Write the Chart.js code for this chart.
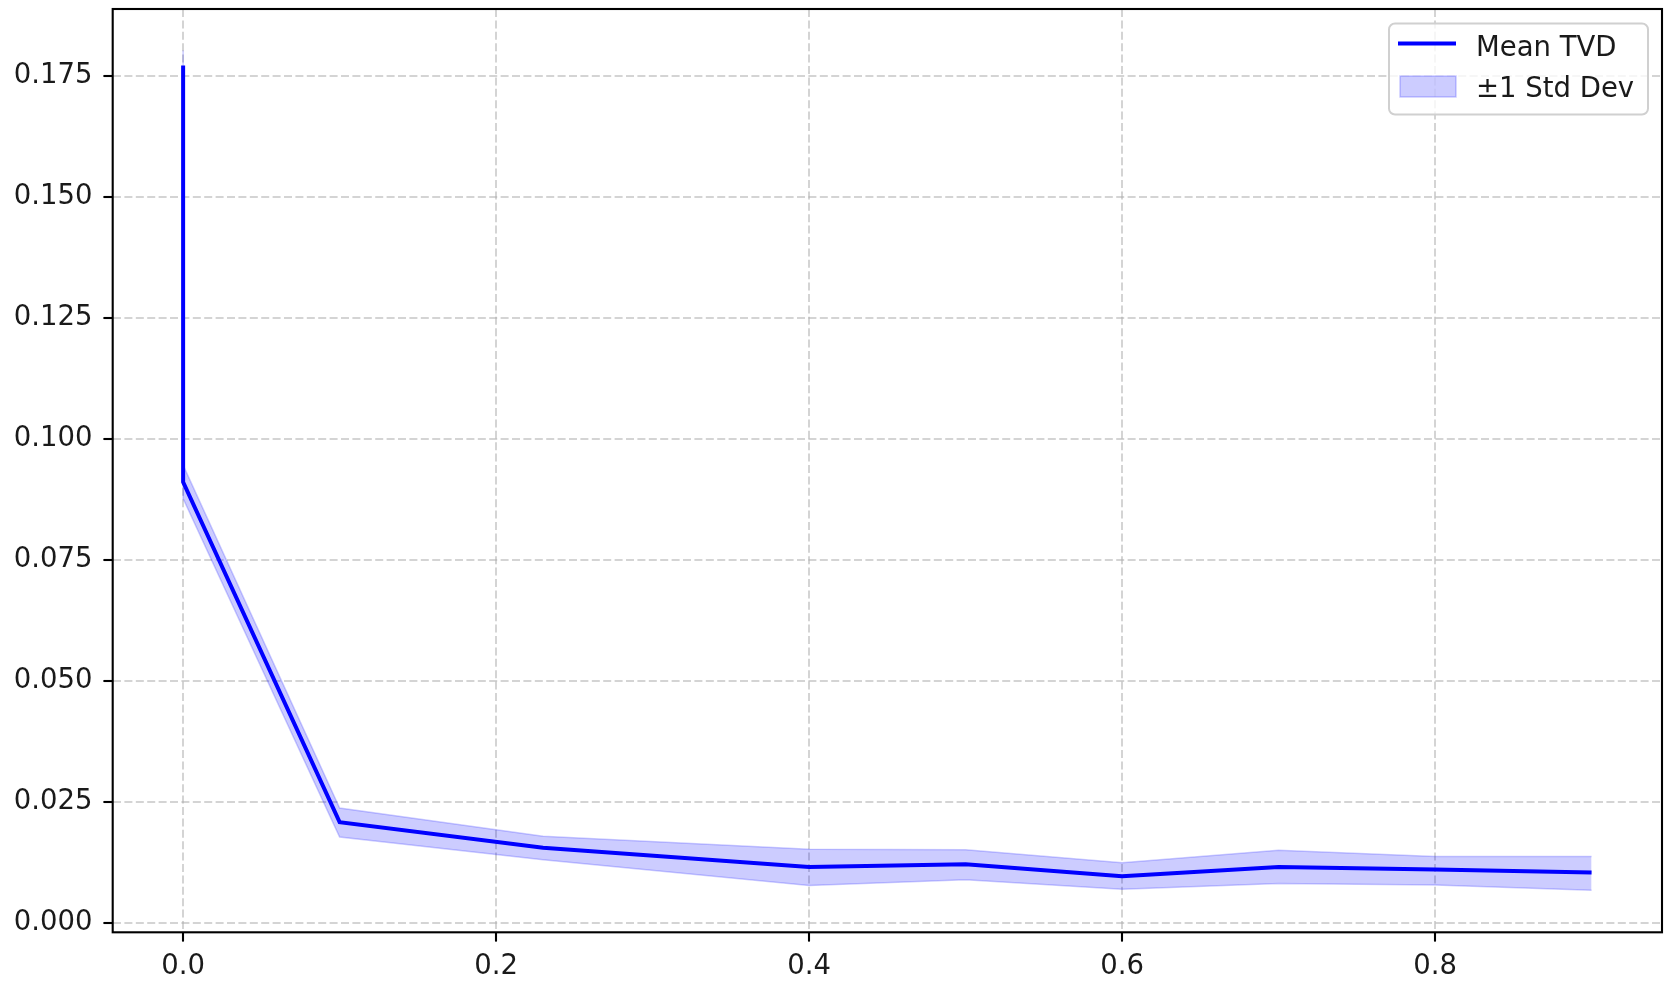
<!DOCTYPE html>
<html>
<head>
<meta charset="utf-8">
<script src="https://cdn.jsdelivr.net/npm/chart.js@4/dist/chart.umd.min.js"></script>
<style>
  html, body { margin: 0; padding: 0; background: #fff; }
  #wrap { width: 1678px; height: 986px; }
</style>
</head>
<body>
<div id="wrap"><canvas id="tvdChart" width="1678" height="986"></canvas></div>
<script>
// values
const xValues = [0, 0, 0.1, 0.23, 0.4, 0.5, 0.6, 0.7, 0.8, 0.9];
const meanTvd = [0.1772, 0.0911, 0.0208, 0.0155, 0.0115, 0.0121, 0.0096, 0.0115, 0.0110, 0.0104];
const upperBand = [0.1803, 0.0946, 0.0237, 0.0179, 0.0152, 0.0151, 0.0124, 0.0150, 0.0137, 0.0137];
const lowerBand = [0.1741, 0.0877, 0.0177, 0.0130, 0.0077, 0.0089, 0.0069, 0.0081, 0.0078, 0.0067];
const xTicks = [0, 0.2, 0.4, 0.6, 0.8];
const yTicks = [0, 0.025, 0.05, 0.075, 0.1, 0.125, 0.15, 0.175];
const legendLabels = ["Mean TVD", "\u00b11 Std Dev"];

const FONT = '"DejaVu Sans", Verdana, sans-serif';
const FONT_SIZE = 27.5;
const pts = ys => xValues.map((x, i) => ({ x: x, y: ys[i] }));

// frame (all four spines) + matplotlib-like legend box
const framePlugin = {
  id: "frame",
  afterDraw(chart) {
    const ctx = chart.ctx;
    const a = chart.chartArea;
    ctx.save();
    ctx.strokeStyle = "#000";
    ctx.lineWidth = 2.1;
    ctx.strokeRect(a.left, a.top, a.right - a.left, a.bottom - a.top);

    // legend
    const bx = 1389, by = 23.5, bw = 259, bh = 91, r = 6;
    ctx.beginPath();
    ctx.roundRect(bx, by, bw, bh, r);
    ctx.fillStyle = "rgba(255,255,255,0.8)";
    ctx.fill();
    ctx.strokeStyle = "#d0d0d0";
    ctx.lineWidth = 2;
    ctx.stroke();

    ctx.beginPath();
    ctx.moveTo(1398, 43.5);
    ctx.lineTo(1456, 43.5);
    ctx.strokeStyle = "#0000ff";
    ctx.lineWidth = 4;
    ctx.stroke();

    ctx.fillStyle = "rgba(0,0,255,0.2)";
    ctx.fillRect(1400, 76, 56, 21);
    ctx.strokeStyle = "rgba(0,0,255,0.2)";
    ctx.lineWidth = 1.5;
    ctx.strokeRect(1400, 76, 56, 21);

    ctx.fillStyle = "#1a1a1a";
    ctx.font = FONT_SIZE + "px " + FONT;
    ctx.textBaseline = "alphabetic";
    ctx.textAlign = "left";
    ctx.fillText(legendLabels[0], 1476, 55.5);
    ctx.fillText(legendLabels[1], 1476, 97);
    ctx.restore();
  }
};

const gridOpts = {
  color: "rgba(176,176,176,0.55)",
  lineWidth: 2,
  tickLength: 9.3,
  tickColor: "#000",
  tickWidth: 2.1,
  tickBorderDash: []
};

new Chart(document.getElementById("tvdChart").getContext("2d"), {
  type: "line",
  data: {
    datasets: [
      {
        label: legendLabels[0],
        data: pts(meanTvd),
        borderColor: "#0000ff",
        borderWidth: 4,
        pointRadius: 0,
        fill: false,
        tension: 0
      },
      {
        label: "upper",
        data: pts(upperBand),
        borderColor: "rgba(0,0,255,0.2)",
        borderWidth: 1.5,
        pointRadius: 0,
        fill: false,
        tension: 0
      },
      {
        label: legendLabels[1],
        data: pts(lowerBand),
        borderColor: "rgba(0,0,255,0.2)",
        backgroundColor: "rgba(0,0,255,0.2)",
        borderWidth: 1.5,
        pointRadius: 0,
        fill: "-1",
        tension: 0
      }
    ]
  },
  options: {
    responsive: false,
    animation: false,
    layout: { padding: { left: 0, top: 9, right: 16, bottom: 0 } },
    plugins: {
      legend: { display: false },
      tooltip: { enabled: false }
    },
    scales: {
      x: {
        type: "linear",
        min: -0.045,
        max: 0.945,
        afterBuildTicks: s => { s.ticks = xTicks.map(v => ({ value: v })); },
        afterFit: s => { s.height = 53.7; s.paddingLeft = 0; s.paddingRight = 0; },
        grid: gridOpts,
        border: { display: false, dash: [8, 3.4] },
        ticks: {
          padding: 9,
          color: "#1a1a1a",
          font: { family: FONT, size: FONT_SIZE },
          maxRotation: 0,
          callback: v => v.toFixed(1)
        }
      },
      y: {
        type: "linear",
        min: -0.00198,
        max: 0.1889,
        afterBuildTicks: s => { s.ticks = yTicks.map(v => ({ value: v })); },
        afterFit: s => { s.width = 112.7; s.paddingTop = 0; s.paddingBottom = 0; },
        grid: gridOpts,
        border: { display: false, dash: [8, 3.4] },
        ticks: {
          padding: 11,
          color: "#1a1a1a",
          font: { family: FONT, size: FONT_SIZE },
          callback: v => v.toFixed(3)
        }
      }
    }
  },
  plugins: [framePlugin]
});
</script>
</body>
</html>
